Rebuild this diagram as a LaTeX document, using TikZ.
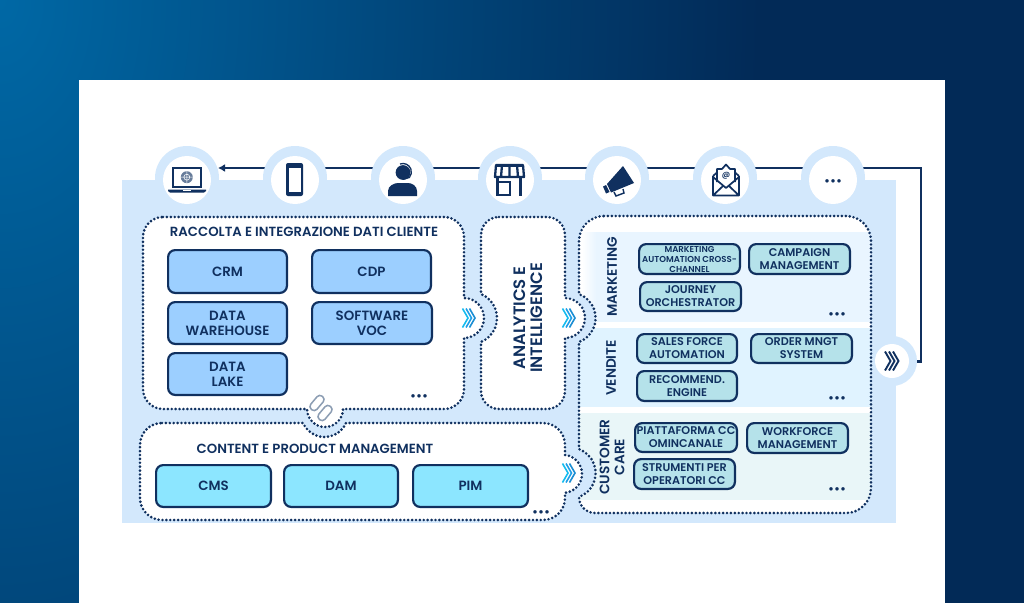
\documentclass[tikz,border=0pt]{standalone}
\usepackage{fontspec}
\setmainfont{Poppins}[BoldFont={Poppins SemiBold}]
\usetikzlibrary{arrows.meta}
\definecolor{navy}{HTML}{10305F}
\definecolor{bgdark}{HTML}{022A57}
\definecolor{bglight}{HTML}{0068A5}
\definecolor{backblue}{HTML}{D3E8FC}
\definecolor{boxa}{HTML}{9CCFFF}
\definecolor{boxb}{HTML}{8CE6FF}
\definecolor{boxc}{HTML}{B5E2EA}
\definecolor{bandm}{HTML}{E9F5FF}
\definecolor{bandv}{HTML}{E0F3FF}
\definecolor{bandc}{HTML}{E9F6F8}
\definecolor{linkgrey}{HTML}{8C9DB3}
\definecolor{chevblue}{HTML}{1E9FE8}
\tikzset{
  dotline/.style={draw=navy,line width=2.9pt,line cap=round,dash pattern=on 0pt off 3.9pt,fill=white},
  panelA/.style={insert path={(163,217) -- (444,217) arc[start angle=-90,end angle=0,radius=20] -- (464,298)
     arc[start angle=-90,end angle=90,radius=20] -- (464,389) arc[start angle=0,end angle=90,radius=20] -- (343,409)
     arc[start angle=0,end angle=180,radius=18] -- (163,409) arc[start angle=90,end angle=180,radius=20] -- (143,237)
     arc[start angle=180,end angle=270,radius=20] -- cycle}},
  panelB/.style={insert path={(162,423) -- (303,423) arc[start angle=156.2,end angle=23.8,radius=23.5] -- (543,423)
     arc[start angle=-90,end angle=0,radius=22] -- (565,455) arc[start angle=-84,end angle=84,radius=19] -- (565,498)
     arc[start angle=0,end angle=90,radius=22] -- (162,520) arc[start angle=90,end angle=180,radius=22] -- (140,445)
     arc[start angle=180,end angle=270,radius=22] -- cycle}},
  panelC/.style={insert path={(604,216) -- (846,216) arc[start angle=-90,end angle=0,radius=25] -- (871,488)
     arc[start angle=0,end angle=90,radius=25] -- (595,513) arc[start angle=90,end angle=180,radius=16]
     arc[start angle=69.4,end angle=-69.4,radius=25.6] -- (579,342) arc[start angle=69.4,end angle=-69.4,radius=25.6]
     -- (579,241) arc[start angle=180,end angle=270,radius=25] -- cycle}},
  panelD/.style={insert path={(499,217) -- (547,217) arc[start angle=-90,end angle=0,radius=18] -- (565,298)
     arc[start angle=-90,end angle=90,radius=20] -- (565,391) arc[start angle=0,end angle=90,radius=18] -- (499,409)
     arc[start angle=90,end angle=180,radius=18] -- (481,342) arc[start angle=67.4,end angle=-67.4,radius=26]
     -- (481,235) arc[start angle=180,end angle=270,radius=18] -- cycle}},
  ring/.style={circle,fill=backblue,minimum size=64pt,inner sep=0pt},
  hole/.style={circle,fill=white,minimum size=48pt,inner sep=0pt},
  boxbase/.style={draw=navy,line width=2.2pt,rounded corners=7pt,inner sep=0pt,text=navy,align=center,anchor=north west,font=\bfseries\fontsize{13.4}{15}\selectfont},
  boxsm/.style={boxbase,font=\bfseries\fontsize{11.2}{13}\selectfont,fill=boxc},
  title/.style={text=navy,font=\bfseries\fontsize{13.25}{15}\selectfont,inner sep=0pt},
  side/.style={text=navy,font=\bfseries\fontsize{13.7}{15}\selectfont,rotate=90,align=center,inner sep=0pt},
  more/.style={text=navy,font=\bfseries\fontsize{12.5}{13}\selectfont,inner sep=0pt,yshift=-2pt},
  icon/.style={fill=navy,draw=none}
}
\newcommand{\flow}[3]{%
  \draw[line width=#3,draw=#1] (#2-5.5,-9.5) -- (#2,0) -- (#2-5.5,9.5);}
\newcommand{\boxat}[7]{% name, x1,y1,x2,y2, style, text
  \node[#6,minimum width=#4pt-#2pt-2.2pt,minimum height=#5pt-#3pt-2.2pt] (#1) at (#2,#3) {#7};}
\begin{document}
\begin{tikzpicture}[x=1pt,y=-1pt]
\useasboundingbox (0,0) rectangle (1024,602);
\begin{scope}
  \clip (0,0) rectangle (1024,604);
  \fill[bgdark] (0,0) rectangle (1024,604);
  \shade[inner color=bglight,outer color=bgdark] (0,0) ellipse[x radius=760,y radius=1150];
\end{scope}
\fill[white] (79,80) rectangle (945,604);
\fill[backblue] (122,180) rectangle (896,523);
% return line and chain, running behind the rings
\coordinate (lineend) at (916,361.5);
\coordinate (corner) at (921,168);
\coordinate (linetip) at (218,168);
\draw[navy,line width=2.4pt,-{Latex[length=7pt,width=8pt]},line join=miter] (lineend) -- (921,361.5) -- (corner) -- (linetip);
% rings
\foreach \n/\x in {c1/187,c2/295,c3/403,c4/510,c5/617,c6/725,c7/833}{
  \node[ring] (\n) at (\x,178) {};
  \node[hole] (\n h) at (\x,180) {};
}
\node[circle,fill=backblue,minimum size=50pt,inner sep=0pt] (cr) at (892,361) {};
\node[hole,minimum size=34pt] (crh) at (892,361) {};
\begin{scope}[shift={(893,361)}]
  \flow{navy}{-2.5}{1.9pt}\flow{navy}{1.5}{1.9pt}\flow{navy}{5.5}{1.9pt}
\end{scope}
% laptop
\draw[navy,line width=2pt] (172.5,167.5) rectangle (201,187);
\fill[navy] (168,189.5) -- (206,189.5) -- (206,191) -- (204,192.5) -- (170,192.5) -- (168,191) -- cycle;
\fill[white] (183,189.5) rectangle (191,190.5);
\fill[linkgrey!70!navy] (186.8,177.2) circle[radius=6];
\draw[white,line width=.5pt] (186.8,177.2) circle[radius=3] (180.8,177.2) -- (192.8,177.2) (186.8,171.2) -- (186.8,183.2);
% phone
\fill[navy] (286,163) [rounded corners=2pt] rectangle (303,196);
\fill[white] (288.5,167.5) rectangle (300.5,191.5);
% agent
\fill[icon] (403,172.5) circle[radius=7.4];
\draw[navy,line width=1.3pt] (400,164) arc[start angle=-110,end angle=40,radius=8.5] -- (404,179);
\fill[icon] (388,196) -- (388,191) .. controls (388,186) and (394,183) .. (398,183) -- (408,183) .. controls (412,183) and (417,186) .. (417,191) -- (417,196) -- cycle;
% shop
\fill[icon] (496,164) rectangle (523,167);
\draw[navy,line width=2.3pt,line join=round] (496,165) -- (523,165) -- (524,177) -- (495,177) -- cycle
  (502,165) -- (501,177) (509.5,165) -- (509.5,177) (517,165) -- (518,177);
\draw[navy,line width=2.4pt] (497.5,177) -- (497.5,195) -- (510,195) -- (510,182) -- (497.5,182) (520.5,177) -- (520.5,195.5);
% megaphone
\fill[icon] (607,184) -- (623,166) -- (634,183) -- (611,192.5) -- cycle;
\fill[icon] (603,186.5) -- (606,185) -- (609.5,192) -- (606,193.5) -- cycle;
\draw[navy,line width=1.4pt] (614,192) -- (616,196) -- (624,193) -- (623,189);
% mail
\draw[navy,line width=1.7pt,line join=round] (713,176) -- (713,195.5) -- (739,195.5) -- (739,176) (713,176) -- (717,172.5) -- (717,169) -- (722,169) -- (726,164.5) -- (730,169) -- (735,169) -- (735,172.5) -- (739,176)
  (717,172.5) -- (717,182) (735,172.5) -- (735,182)
  (713,177) -- (726,188) -- (739,177) (713.5,195) -- (723,186) (738.5,195) -- (729,186);
\node[text=navy,font=\bfseries\fontsize{8}{9}\selectfont,inner sep=0pt] (mailat) at (726,176) {@};
\node[more] (dots7) at (833,181) {•••};
% panels
\draw[dotline,panelA];
\draw[dotline,panelB];
\begin{scope}
  \path[clip,panelC];
  \fill[white] (560,200) rectangle (880,520);
  \shade[left color=white,right color=bandm] (582,232) rectangle (596,322);
  \fill[bandm] (596,232) rectangle (880,322);
  \fill[bandv] (570,328) rectangle (880,407);
  \fill[bandc] (570,413) rectangle (880,500);
\end{scope}
\draw[dotline,fill=none,panelC];
\draw[dotline,panelD];
% chevrons
\foreach \nm/\x/\y in {ca/469/318,cb/569/318,cc/569/473}{
  \begin{scope}[shift={(\x,\y)}]
    \flow{chevblue!70!cyan}{-1}{1.6pt}\flow{chevblue}{2.5}{1.6pt}\flow{chevblue!85!navy}{6}{1.6pt}
  \end{scope}
}
% link
\draw[linkgrey,line width=1.5pt,rotate around={50:(317,403)},rounded corners=3.6pt] (308.5,399) rectangle (325.5,407);
\draw[linkgrey,line width=1.5pt,rotate around={50:(325,413)},rounded corners=3.6pt] (316.5,409) rectangle (333.5,417);
% titles
\node[title] (t1) at (304,232) {RACCOLTA E INTEGRAZIONE DATI CLIENTE};
\node[title] (t2) at (315,449) {CONTENT E PRODUCT MANAGEMENT};
% boxes left
\boxat{crm}{167}{249}{288}{294}{boxbase,fill=boxa}{CRM}
\boxat{cdp}{311}{249}{432}{294}{boxbase,fill=boxa}{CDP}
\boxat{dw}{167}{301}{288}{345}{boxbase,fill=boxa}{DATA\\WAREHOUSE}
\boxat{voc}{311}{301}{433}{345}{boxbase,fill=boxa}{SOFTWARE\\VOC}
\boxat{dl}{167}{352}{288}{396}{boxbase,fill=boxa}{DATA\\LAKE}
\boxat{cms}{155}{464}{272}{508}{boxbase,fill=boxb}{CMS}
\boxat{dam}{283}{464}{399}{508}{boxbase,fill=boxb}{DAM}
\boxat{pim}{412}{464}{529}{508}{boxbase,fill=boxb}{PIM}
% boxes right
\boxat{mac}{638}{243}{741}{275}{boxsm,font=\bfseries\fontsize{8.6}{10}\selectfont}{MARKETING\\AUTOMATION CROSS-\\CHANNEL}
\boxat{cam}{748}{243}{851}{275}{boxsm}{CAMPAIGN\\MANAGEMENT}
\boxat{jou}{639}{281}{742}{312}{boxsm}{JOURNEY\\ORCHESTRATOR}
\boxat{sal}{636}{333}{738}{364}{boxsm}{SALES FORCE\\AUTOMATION}
\boxat{ord}{750}{333}{853}{364}{boxsm}{ORDER MNGT\\SYSTEM}
\boxat{rec}{636}{370}{738}{402}{boxsm}{RECOMMEND.\\ENGINE}
\boxat{pia}{634}{422}{738}{453}{boxsm}{PIATTAFORMA CC\\OMINCANALE}
\boxat{wor}{746}{422}{849}{454}{boxsm}{WORKFORCE\\MANAGEMENT}
\boxat{str}{633}{458}{736}{490}{boxsm}{STRUMENTI PER\\OPERATORI CC}
% side labels
\node[side,font=\bfseries\fontsize{16.5}{17}\selectfont] (ana) at (528,318) {ANALYTICS E\\INTELLIGENCE};
\node[side] (mkt) at (612,277) {MARKETING};
\node[side] (ven) at (611,368) {VENDITE};
\node[side] (cus) at (612,457) {CUSTOMER\\CARE};
% more marks
\node[more] (m1) at (419,396) {•••};
\node[more] (m2) at (541,512) {•••};
\node[more] (m3) at (837,314) {•••};
\node[more] (m4) at (837,398) {•••};
\node[more] (m5) at (837,489) {•••};
\end{tikzpicture}
\end{document}
